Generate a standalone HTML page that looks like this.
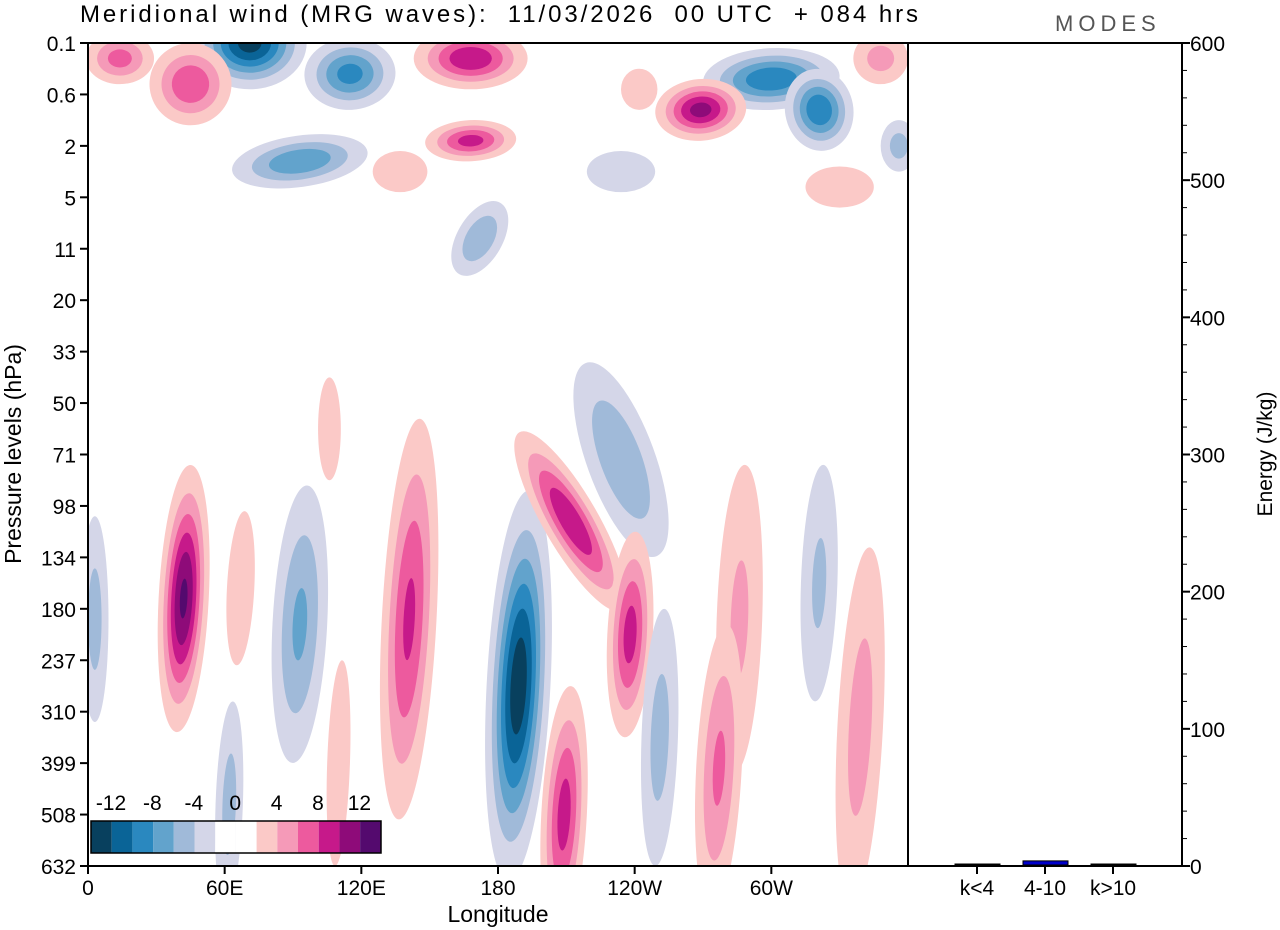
<!DOCTYPE html>
<html><head><meta charset="utf-8"><style>
html,body{margin:0;background:#fff;font-family:"Liberation Sans",sans-serif;overflow:hidden;width:1280px;height:930px}
svg{display:block}
svg text{font-family:"Liberation Sans",sans-serif}
</style></head><body>
<svg id="c" width="1280" height="930" viewBox="0 0 1280 930">
<defs><clipPath id="pc"><rect x="88" y="43" width="820" height="823"/></clipPath></defs>
<text x="80" y="22" font-size="24" textLength="838" lengthAdjust="spacing" style="white-space:pre">Meridional wind (MRG waves):  11/03/2026  00 UTC  + 084 hrs</text>
<text x="1055" y="31" font-size="22" fill="#555" letter-spacing="5">MODES</text>
<g id="field" clip-path="url(#pc)"></g>
<g id="axes"></g>
</svg>
<script>
const levels=["0.1","0.6","2","5","11","20","33","50","71","98","134","180","237","310","399","508","632"];
const lonTicks=[0,60,120,180,240,300];
const lonLabels=["0","60E","120E","180","120W","60W"];
const energyTicks=[0,100,200,300,400,500,600];
const barCats=["k<4","4-10","k>10"];
const barVals=[0.4,3,0.3];
const cbLabels=["-12","-8","-4","0","4","8","12"];
const cbColors=["#08405e","#0a6497","#2a88bf","#62a3cc","#a0bad9","#d4d6e8","#ffffff","#ffffff","#fbc9c7","#f59ab8","#ed5a9e","#c6198a","#8e0b79","#540a6e"];
// blobs: lon(deg), level index, peak, half-width(deg), half-height(levels), tilt(deg)
const bLon=[189,42,141,209,212,238,93,234,277,286,321,339,3,62,110,251,67,106,71,115,14,45,168,300,321,269,348,93,168,137,172,330,242,356,234];
const bLev=[12.5,10.8,11.2,15,9.3,11.5,11.3,8.1,14.1,11.2,10.5,13.3,11.2,14.8,14,13.5,10.6,7.5,0,0.6,0.3,0.8,0.3,0.7,1.3,1.3,0.3,2.3,1.9,2.5,3.8,2.8,0.9,2,2.5];
const bAmp=[-13.5,12.5,8.5,9,10,9,-6.5,-6,6.5,4.5,-4.5,5,-5,-5,4,-5,4,3,-13,-9,7,8,10,-10,-10,11,5,-8,9,4,-6,4,4,-5,-3];
const bW=[14,11,12,10,12,10,12,15,10,10,8,10,6,6,5,8,6,5,25,20,15,18,25,30,15,20,12,30,20,12,10,15,8,8,15];
const bH=[3.8,2.6,3.9,2.5,2,2,2.7,2,2.8,3,2.3,3.5,2,2,2,2.5,1.5,1,0.9,0.7,0.5,0.8,0.6,0.6,0.8,0.6,0.5,0.5,0.4,0.4,0.8,0.4,0.4,0.5,0.4];
const bRot=[3,3,3,3,-30,3,3,-20,3,2,2,3,0,2,2,2,3,0,0,-3,0,5,0,-3,-10,-5,0,-8,-3,0,30,0,0,0,0];

const X0=88,X1=908,Y0=43,Y1=866;
const xS=l=>X0+(l/360)*(X1-X0);
const yS=i=>Y0+i*(Y1-Y0)/(levels.length-1);
const eS=v=>Y1-(v/600)*(Y1-Y0);
const NS="http://www.w3.org/2000/svg";
function mk(tag,at,parent){const e=document.createElementNS(NS,tag);for(const k in at)e.setAttribute(k,at[k]);parent.appendChild(e);return e;}
function colorFor(t,sign){const idx=Math.min(6,Math.floor(t/2));return sign>0?cbColors[7+idx]:cbColors[6-idx];}
const field=document.getElementById('field');
const order=bLon.map((_,i)=>i).sort((a,b)=>bW[b]*bH[b]-bW[a]*bH[a]);
order.forEach(i=>{
  const A=Math.abs(bAmp[i]),sg=Math.sign(bAmp[i]);
  const cx=xS(bLon[i]),cy=yS(bLev[i]);
  const rx=xS(bW[i])-xS(0),ry=yS(bH[i])-yS(0);
  const g=mk('g',{transform:`rotate(${bRot[i]} ${cx} ${cy})`},field);
  
  
  for(let t=2;t<A;t+=2){
    const s=Math.sqrt(Math.log(A/t)/Math.log(A/2));
    const e=mk('ellipse',{cx:cx,cy:cy,rx:rx*s,ry:ry*s,fill:colorFor(t,sg)},g);
    
    
  }
});
const ax=document.getElementById('axes');
mk('rect',{x:X0,y:Y0,width:X1-X0,height:Y1-Y0,fill:'none',stroke:'#000','stroke-width':2},ax);
mk('rect',{x:X1,y:Y0,width:1182-X1,height:Y1-Y0,fill:'none',stroke:'#000','stroke-width':2},ax);
levels.forEach((l,i)=>{
  const y=yS(i);
  mk('line',{x1:X0-8,x2:X0,y1:y,y2:y,stroke:'#000','stroke-width':2},ax);
  const t=mk('text',{x:X0-12,y:y+8,'font-size':21,'text-anchor':'end'},ax);t.textContent=l;
  
});
lonTicks.forEach((l,i)=>{
  const x=xS(l);
  mk('line',{x1:x,x2:x,y1:Y1,y2:Y1+8,stroke:'#000','stroke-width':2},ax);
  const t=mk('text',{x:x,y:Y1+29,'font-size':21,'text-anchor':'middle'},ax);t.textContent=lonLabels[i];
  
});
let t=mk('text',{x:498,y:922,'font-size':23,'text-anchor':'middle'},ax);t.textContent='Longitude';
t=mk('text',{x:0,y:0,'font-size':23,'text-anchor':'middle',transform:'translate(21 454) rotate(-90)'},ax);t.textContent='Pressure levels (hPa)';
energyTicks.forEach(v=>{
  const y=eS(v);
  mk('line',{x1:1182,x2:1190,y1:y,y2:y,stroke:'#000','stroke-width':2},ax);
  const tt=mk('text',{x:1190,y:y+8,'font-size':21},ax);tt.textContent=v;
});
for(let v=20;v<600;v+=20){if(v%100){const y=eS(v);mk('line',{x1:1182,x2:1187,y1:y,y2:y,stroke:'#000','stroke-width':1},ax);}}
t=mk('text',{x:0,y:0,'font-size':21,'text-anchor':'middle',transform:'translate(1272 454) rotate(-90)'},ax);t.textContent='Energy (J/kg)';
barCats.forEach((c,i)=>{
  const cx=977+i*68;
  const h=Math.max(1,Y1-eS(barVals[i]));
  const r=mk('rect',{x:cx-22,y:Y1-h-1,width:45,height:h,fill:i==1?'#0000cc':'#333',stroke:'#000','stroke-width':1},ax);
  
  mk('line',{x1:cx,x2:cx,y1:Y1,y2:Y1+8,stroke:'#000','stroke-width':2},ax);
  const tt=mk('text',{x:cx,y:Y1+29,'font-size':21,'text-anchor':'middle'},ax);tt.textContent=c;
});
const cb=mk('g',{},ax);
cbColors.forEach((c,i)=>{mk('rect',{x:91+i*20.7,y:821,width:20.7,height:32,fill:c},cb);});
mk('rect',{x:91,y:821,width:290,height:32,fill:'none',stroke:'#000','stroke-width':1.5},cb);
cbLabels.forEach((l,i)=>{const tt=mk('text',{x:111+i*41.4,y:810,'font-size':21,'text-anchor':'middle'},cb);tt.textContent=l;});
</script>
</body></html>
